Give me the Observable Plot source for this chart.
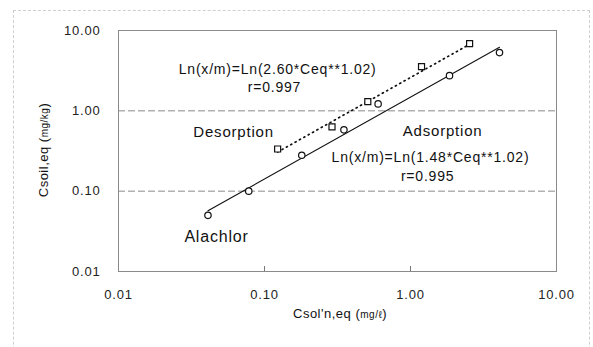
<!DOCTYPE html>
<html><head><meta charset="utf-8">
<script src="https://cdn.jsdelivr.net/npm/d3@7"></script>
<script src="https://cdn.jsdelivr.net/npm/@observablehq/plot@0.6"></script>
<style>
body{margin:0;background:#fff;}
#wrap{position:relative;width:593px;height:347px;overflow:hidden;}
#border{position:absolute;left:13px;top:10px;width:577px;height:400px;border:1px dashed #cfcfcf;box-sizing:border-box;}
#wrap svg{position:absolute;left:0;top:0;}
svg text{letter-spacing:0.8px}
</style></head><body><div id="wrap"><div id="border"></div></div>
<script>
// Adsorption (circles)
const adsorptionX = [0.041, 0.078, 0.18, 0.35, 0.60, 1.85, 4.07];
const adsorptionY = [0.050, 0.100, 0.28, 0.58, 1.22, 2.74, 5.31];
// Desorption (squares)
const desorptionX = [0.123, 0.29, 0.51, 1.19, 2.54];
const desorptionY = [0.335, 0.63, 1.30, 3.55, 6.88];
// Fitted Freundlich equations shown on chart: coefficient, exponent
const adsorptionFit = [1.48, 1.02];
const desorptionFit = [2.60, 1.02];
// Axis ticks
const tickValues = [0.01, 0.1, 1, 10];
const gridValues = [0.1, 1];
const tickLabels = ["0.01", "0.10", "1.00", "10.00"];
// Annotations
const annoText = ["Ln(x/m)=Ln(2.60*Ceq**1.02)", "r=0.997", "Desorption", "Adsorption", "Ln(x/m)=Ln(1.48*Ceq**1.02)", "r=0.995", "Alachlor"];
const annoX = [0.123, 0.117, 0.0614, 1.66, 1.37, 1.31, 0.0469];
const annoY = [3.25, 1.94, 0.546, 0.562, 0.266, 0.154, 0.0266];
const annoSize = [14, 14, 15, 15, 14, 14, 16];

const ads = adsorptionX.map((x, i) => ({x, y: adsorptionY[i]}));
const des = desorptionX.map((x, i) => ({x, y: desorptionY[i]}));
const fitLine = ([k, n], xs) => d3.extent(xs).map(x => ({x, y: k * Math.pow(x, n)}));
const adsLine = fitLine(adsorptionFit, adsorptionX);
const desLine = fitLine(desorptionFit, desorptionX);
const annos = annoText.map((t, i) => ({t, x: annoX[i], y: annoY[i], s: annoSize[i]}));
const fmt = d => tickLabels[tickValues.indexOf(d)] ?? "";

const chart = Plot.plot({
  width: 593, height: 347,
  marginLeft: 118, marginRight: 37, marginTop: 30, marginBottom: 76,
  style: {fontFamily: "Arial, 'Liberation Sans', sans-serif", fontSize: "13px", background: "transparent", color: "#222"},
  x: {type: "log", domain: [0.01, 10]},
  y: {type: "log", domain: [0.01, 10]},
  marks: [
    Plot.gridY(gridValues, {stroke: "#8a8a8a", strokeOpacity: 1, strokeDasharray: "7,3"}),
    Plot.frame({stroke: "#8a8a8a"}),
    Plot.axisY(tickValues, {tickSize: 0, tickPadding: 18, tickFormat: fmt, label: null, fontSize: 13}),
    Plot.axisX(tickValues, {tickSize: 0, tickPadding: 18, tickFormat: fmt, label: null, fontSize: 13}),
    Plot.axisX(gridValues, {tickSize: 5, dy: -5, tickFormat: () => "", label: null, stroke: "#777"}),
    Plot.line(adsLine, {x: "x", y: "y", stroke: "#111", strokeWidth: 1.1}),
    Plot.line(desLine, {x: "x", y: "y", stroke: "#111", strokeWidth: 1.7, strokeDasharray: "1.2,3.8", strokeLinecap: "round"}),
    Plot.dot(ads, {x: "x", y: "y", r: 3.2, stroke: "#111", fill: "white", strokeWidth: 1.2}),
    Plot.dot(des, {x: "x", y: "y", symbol: "square", r: 3.4, stroke: "#111", fill: "white", strokeWidth: 1.2}),
    Plot.text(annos, {x: "x", y: "y", text: "t", fontSize: "s", fill: "#111", textAnchor: "middle"})
  ]
});
document.getElementById("wrap").appendChild(chart);

const svg = d3.select(chart);
const xl = svg.append("text").attr("x", 340).attr("y", 318).attr("text-anchor", "middle")
  .attr("fill", "#111").style("font-size", "13px").style("letter-spacing", "0.5px");
xl.append("tspan").text("Csol'n,eq (");
xl.append("tspan").style("font-size", "10px").text("mg/ℓ");
xl.append("tspan").text(")");
const yl = svg.append("text").attr("transform", "translate(48,150) rotate(-90)").attr("text-anchor", "middle")
  .attr("fill", "#111").style("font-size", "13px").style("letter-spacing", "0.5px");
yl.append("tspan").text("Csoil,eq (");
yl.append("tspan").style("font-size", "10px").text("mg/kg");
yl.append("tspan").text(")");
</script></body></html>
